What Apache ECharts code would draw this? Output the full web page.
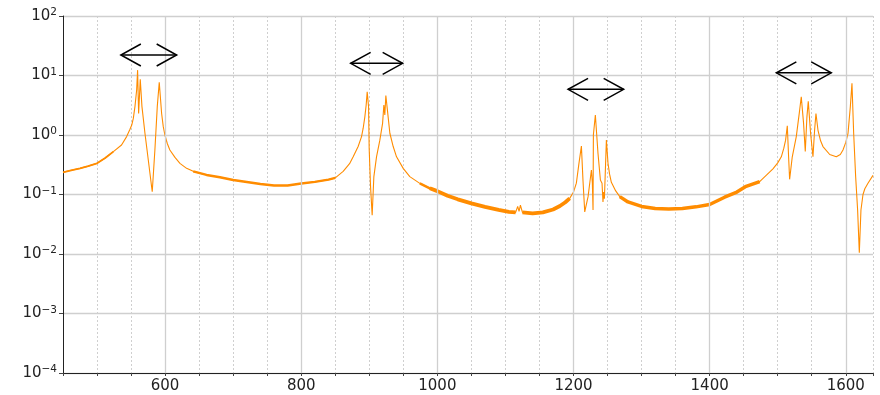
<!DOCTYPE html>
<html>
<head>
<meta charset="utf-8">
<script src="https://cdn.jsdelivr.net/npm/echarts@6.0.0/dist/echarts.min.js"></script>
<style>
  html, body { margin: 0; padding: 0; background: #fff; }
  #chart { width: 880px; height: 395px; }
</style>
</head>
<body>
<div id="chart"></div>
<script>
// frequency axis values
const freqs = [
  450, 462, 475, 487, 500, 512, 524, 536, 543.5, 548.4, 551, 553.3, 555.7, 558.2, 559.6, 561.1, 563.5,
  566, 570.4, 575.3, 581.1, 585, 588.5, 591.4, 594.9, 597.3, 599.7, 603.2, 607, 614.5,
  621.8, 631.6, 641.3, 660.9, 680.5, 700, 720, 740, 760, 780, 800, 820, 840, 850, 861.6,
  871, 876.3, 883.6, 888.6, 891, 893.4, 895.4, 896.9, 898.9, 899.8, 901.8, 904.2, 906.7,
  910.6, 915.5, 919.5, 921.4, 922.8, 924.3, 926.8, 930.2, 935.1, 940, 949.8, 959.5,
  974.2, 988.9, 1000, 1015, 1030, 1050, 1070, 1090, 1105, 1115, 1118, 1120, 1122, 1125,
  1140, 1155, 1170, 1180, 1188, 1194.4, 1200, 1204.2, 1208, 1211.6, 1213.9, 1216.5,
  1221.4, 1226.3, 1227.7, 1228.7, 1229.2, 1232.1, 1236, 1239.5, 1241.9, 1243.3, 1244.3,
  1245.4, 1248.3, 1250.7, 1253, 1255.6, 1262, 1268, 1280, 1300, 1320, 1340, 1360, 1380,
  1400, 1422, 1440, 1453.6, 1473.5, 1493, 1500, 1505.3, 1509, 1511.6, 1514.1, 1516,
  1517.5, 1521.4, 1527.3, 1532.2, 1534.6, 1538, 1540.5, 1542.9, 1544.9, 1548.3, 1551.8,
  1554.2, 1556.2, 1559.2, 1563, 1566.5, 1576.4, 1586.1, 1592, 1595.9, 1600, 1603.3,
  1606.7, 1609.1, 1611.6, 1614.5, 1617.4, 1619.9, 1622.3, 1625.3, 1628, 1632.6, 1640
];

// amplitude at each frequency above
const amplitude = [
  0.236, 0.255, 0.275, 0.3, 0.334, 0.41, 0.525, 0.68, 0.94, 1.25, 1.47, 1.9, 3.0, 5.7, 12.3, 2.3, 8.6,
  3.0, 1.07, 0.38, 0.111, 0.56, 3.0, 7.7, 2.3, 1.38, 1.0, 0.72, 0.56, 0.42,
  0.334, 0.275, 0.245, 0.213, 0.195, 0.175, 0.162, 0.15, 0.142, 0.142, 0.153, 0.163, 0.178, 0.19, 0.245,
  0.33, 0.43, 0.64, 0.94, 1.3, 2.0, 3.2, 5.3, 3.0, 0.6, 0.137, 0.045, 0.2,
  0.43, 0.82, 1.57, 3.2, 2.17, 4.6, 2.5, 1.07, 0.64, 0.43, 0.275, 0.2,
  0.154, 0.127, 0.114, 0.095, 0.083, 0.071, 0.062, 0.055, 0.051, 0.05, 0.063, 0.052, 0.066, 0.05,
  0.048, 0.05, 0.056, 0.064, 0.074, 0.086, 0.11, 0.155, 0.334, 0.65, 0.175, 0.051,
  0.092, 0.258, 0.155, 0.055, 1.0, 2.17, 0.49, 0.175, 0.155, 0.075, 0.11,
  0.085, 0.82, 0.334, 0.22, 0.16, 0.115, 0.092, 0.075, 0.063, 0.058, 0.057, 0.058, 0.062,
  0.068, 0.09, 0.11, 0.137, 0.165, 0.27, 0.34, 0.43, 0.6, 0.82, 1.43, 0.43,
  0.18, 0.43, 0.94, 2.6, 4.4, 1.57, 0.53, 2.0, 3.7, 1.07, 0.43,
  1.2, 2.3, 1.2, 0.8, 0.64, 0.47, 0.43, 0.47, 0.56, 0.75, 1.07,
  3.0, 7.4, 1.07, 0.2, 0.055, 0.0105, 0.055, 0.1, 0.125, 0.155, 0.21
];

// stretches where the trace is a thick noisy band: [from, to, width]
const noisyBands = [
  [450, 530, 1.8],
  [640, 850, 2.4],
  [960, 1000, 2.6],
  [988, 1116, 3.8],
  [1125, 1195, 3.8],
  [1265, 1475, 3.5]
];

// double-headed arrows above the peak groups
const arrowFrom = [535, 872.6, 1192, 1498];
const arrowTo = [617, 949, 1273.7, 1578.7];
const arrowLevel = [22.1, 16.0, 5.86, 11.1];

const majorTicks = [600, 800, 1000, 1200, 1400, 1600];

const font = 'DejaVu Sans, sans-serif';
const orange = '#ff8c00';

const trace = freqs.map((f, i) => [f, amplitude[i]]);

const bandSeries = noisyBands.map(([a, b, w]) => ({
  type: 'line',
  data: trace.filter(([f]) => f >= a && f <= b),
  showSymbol: false,
  silent: true,
  z: 3,
  lineStyle: { color: orange, width: w, cap: 'butt' }
}));

const arrows = arrowFrom.map((x0, i) => [x0, arrowTo[i], arrowLevel[i]]);

function decadeLabel(v) {
  const e = Math.round(Math.log10(v));
  const s = String(e).replace('-', '\u2212');
  return '{b|10}{s|' + s + '}';
}

const chart = echarts.init(document.getElementById('chart'));

chart.setOption({
  animation: false,
  backgroundColor: '#fff',
  grid: { left: 63, right: 7, top: 16, bottom: 22, containLabel: false },
  xAxis: {
    type: 'value',
    min: 450,
    max: 1640,
    interval: 50,
    axisLine: { show: true, lineStyle: { color: '#222', width: 1 } },
    axisTick: { show: true, length: 3, lineStyle: { color: '#444' } },
    axisLabel: {
      fontFamily: font,
      fontSize: 15,
      color: '#222',
      margin: 6,
      formatter: v => (majorTicks.includes(v) ? String(v) : '')
    },
    splitLine: {
      show: true,
      lineStyle: { color: '#cfcfcf', width: 1, type: [2, 2] }
    }
  },
  yAxis: {
    type: 'log',
    logBase: 10,
    min: 1e-4,
    max: 100,
    interval: 1,
    axisLine: { show: true, lineStyle: { color: '#222', width: 1 } },
    axisTick: { show: true, length: 4, lineStyle: { color: '#444' } },
    axisLabel: {
      margin: 6,
      formatter: decadeLabel,
      rich: {
        b: { fontFamily: font, fontSize: 15, color: '#222', lineHeight: 18 },
        s: { fontFamily: font, fontSize: 10.5, color: '#222', lineHeight: 10, verticalAlign: 'top' }
      }
    },
    splitLine: { show: true, lineStyle: { color: '#cfcfcf', width: 1.3 } }
  },
  series: [
    {
      // solid major vertical grid lines
      type: 'line',
      data: [],
      silent: true,
      z: 1,
      markLine: {
        silent: true,
        symbol: ['none', 'none'],
        label: { show: false },
        lineStyle: { color: '#cfcfcf', width: 1.3, type: 'solid' },
        data: majorTicks.map(v => ({ xAxis: v }))
      }
    },
    {
      type: 'line',
      data: trace,
      showSymbol: false,
      silent: true,
      z: 3,
      lineStyle: { color: orange, width: 1.1 }
    },
    ...bandSeries,
    {
      type: 'custom',
      data: arrows,
      silent: true,
      z: 5,
      encode: { x: [0, 1], y: 2 },
      renderItem: (params, api) => {
        const p0 = api.coord([api.value(0), api.value(2)]);
        const p1 = api.coord([api.value(1), api.value(2)]);
        const hx = 20, hy = 11;
        const style = { stroke: '#000', lineWidth: 1.5, fill: null };
        return {
          type: 'group',
          children: [
            { type: 'line', shape: { x1: p0[0], y1: p0[1], x2: p1[0], y2: p1[1] }, style },
            {
              type: 'polyline',
              shape: { points: [[p0[0] + hx, p0[1] - hy], [p0[0], p0[1]], [p0[0] + hx, p0[1] + hy]] },
              style
            },
            {
              type: 'polyline',
              shape: { points: [[p1[0] - hx, p1[1] - hy], [p1[0], p1[1]], [p1[0] - hx, p1[1] + hy]] },
              style
            }
          ]
        };
      }
    }
  ]
});
</script>
</body>
</html>
